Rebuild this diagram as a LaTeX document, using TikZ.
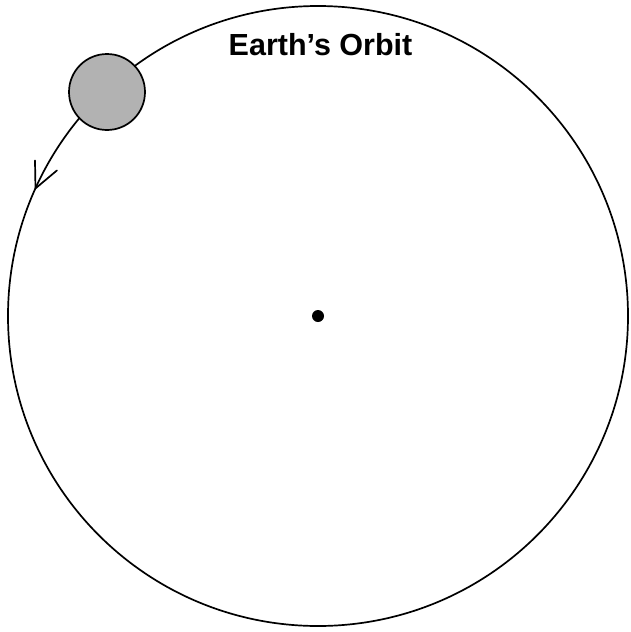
\documentclass[tikz,border=0pt]{standalone}
\usepackage{fontspec}
\setmainfont{Liberation Sans}
\begin{document}
\begin{tikzpicture}[x=1pt,y=-1pt,
  orbitline/.style={line width=1.7pt,black},
  planet/.style={circle,draw=black,line width=1.7pt,fill=black!30,minimum size=76pt,inner sep=0pt},
  sundot/.style={circle,fill=black,minimum size=12pt,inner sep=0pt},
  title/.style={font=\bfseries\fontsize{30.5}{36}\selectfont,inner sep=0pt}]
\useasboundingbox (0,0) rectangle (631,632);
\coordinate (c) at (318,316);
\draw[orbitline] (c) circle[radius=310pt];
\node[sundot] (sun) at (c) {};
\node[planet] (earth) at (107,92) {};
\coordinate (tip) at ([shift={(155.7:310pt)}]c);
\draw[orbitline,line cap=round,line join=miter] ([shift={(91:28pt)}]tip) -- (tip) -- ([shift={(40:28pt)}]tip);
\node[title,anchor=base] (label) at (320.5,55) {Earth’s Orbit};
\end{tikzpicture}
\end{document}
